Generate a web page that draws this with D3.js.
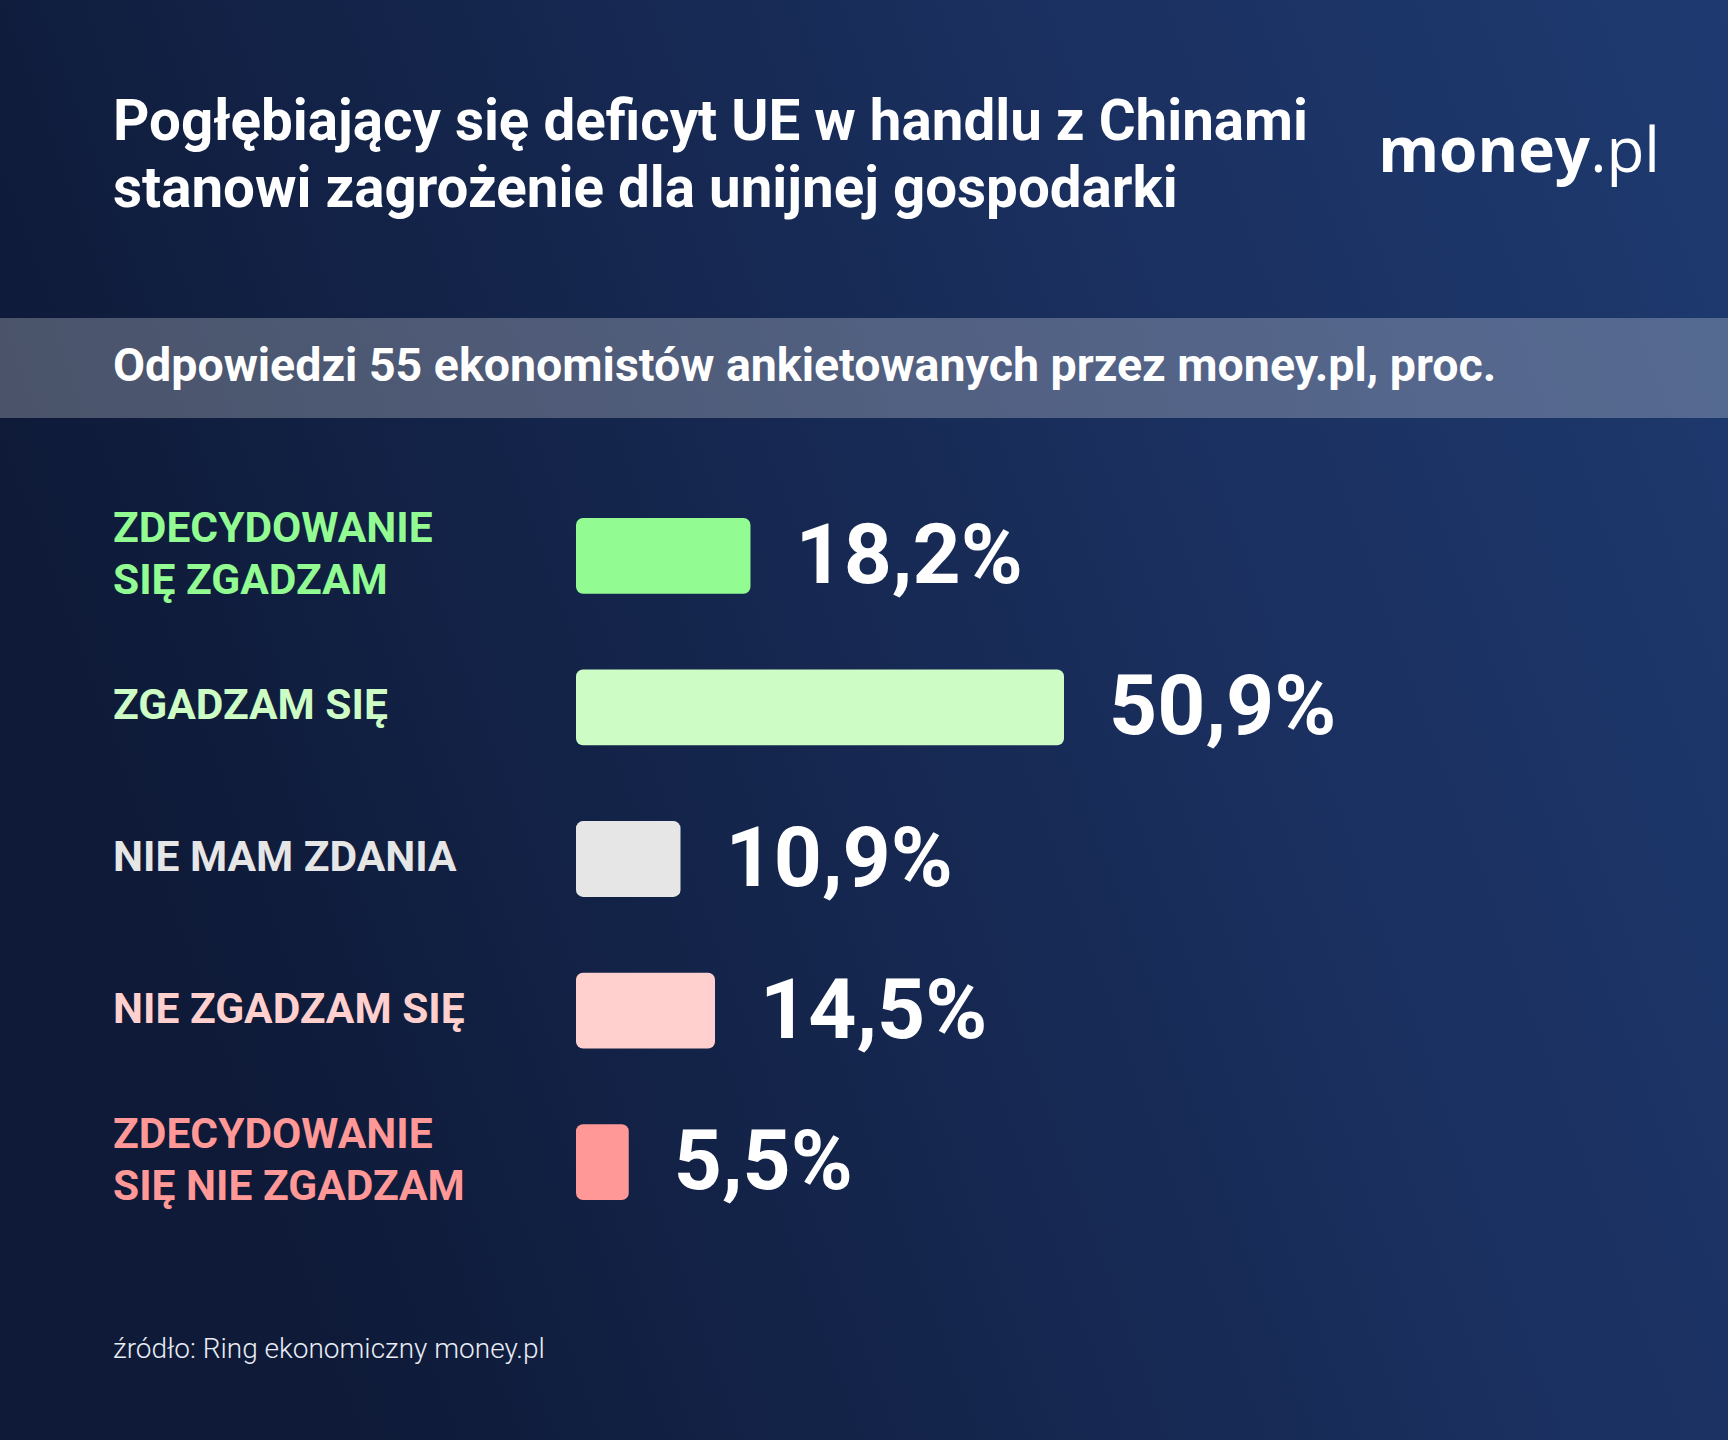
<!DOCTYPE html>
<html>
<head>
<meta charset="utf-8">
<script src="https://d3js.org/d3.v7.min.js"></script>
<style>
  body { margin: 0; }
  svg { display: block; font-family: Roboto, "Noto Sans", sans-serif; }
</style>
</head>
<body>
<svg id="chart" width="1728" height="1440"></svg>
<script>
// data
var categories = [['ZDECYDOWANIE', 'SIĘ ZGADZAM'], ['ZGADZAM SIĘ'], ['NIE MAM ZDANIA'], ['NIE ZGADZAM SIĘ'], ['ZDECYDOWANIE', 'SIĘ NIE ZGADZAM']];
var values = [18.2, 50.9, 10.9, 14.5, 5.5];
var colors = ['#92fb92', '#cdfdc5', '#e6e6e6', '#ffd0cd', '#ff9896'];
var titleLines = ['Pogłębiający się deficyt UE w handlu z Chinami', 'stanowi zagrożenie dla unijnej gospodarki'];
var subtitle = 'Odpowiedzi 55 ekonomistów ankietowanych przez money.pl, proc.';
var source = 'źródło: Ring ekonomiczny money.pl';

var svg = d3.select('#chart');

var defs = svg.append('defs');
var grad = defs.append('linearGradient').attr('id', 'bg').attr('x1', 0).attr('y1', 0.3).attr('x2', 1).attr('y2', 0);
grad.append('stop').attr('offset', '0%').attr('stop-color', '#0e1a38');
grad.append('stop').attr('offset', '60%').attr('stop-color', '#1a2f5e');
grad.append('stop').attr('offset', '100%').attr('stop-color', '#1e3a70');
svg.append('rect').attr('width', 1728).attr('height', 1440).attr('fill', 'url(#bg)');

// title
svg.append('g').selectAll('text').data(titleLines).enter().append('text')
    .attr('x', 113).attr('y', (d, i) => 140 + i * 67)
    .attr('fill', '#fff').attr('font-size', 56.5).attr('font-weight', 700)
    .text(d => d);

// logo
var logo = svg.append('text').attr('x', 1660).attr('y', 172).attr('text-anchor', 'end')
    .attr('fill', '#fff').attr('font-size', 62).attr('font-family', '"Open Sans", sans-serif');
logo.append('tspan').attr('font-weight', 700).text('money');
logo.append('tspan').attr('font-weight', 400).text('.pl');

// band
svg.append('rect').attr('x', 0).attr('y', 318).attr('width', 1728).attr('height', 100)
    .attr('fill', '#ffffff').attr('opacity', 0.25);
svg.append('text').attr('x', 113).attr('y', 381).attr('fill', '#fff')
    .attr('font-size', 46.5).attr('font-weight', 700).text(subtitle);

// bars
var x = d3.scaleLinear().domain([0, 50.9]).range([0, 488]);
var y = d3.scaleBand().domain(d3.range(values.length)).range([518, 1200]).paddingInner(0.5).paddingOuter(0);
var x0 = 576;

var rows = svg.append('g').selectAll('g').data(values).enter().append('g')
    .attr('transform', (d, i) => 'translate(0,' + y(i) + ')');

rows.append('rect').attr('x', x0).attr('width', d => x(d)).attr('height', y.bandwidth())
    .attr('rx', 7).attr('fill', (d, i) => colors[i]);

rows.append('text').attr('x', d => x0 + x(d) + 45).attr('y', y.bandwidth() / 2 + 27)
    .attr('fill', '#fff').attr('font-size', 84).attr('font-weight', 700)
    .text(d => d3.format('.1f')(d).replace('.', ',') + '%');

rows.each(function (d, i) {
    var lines = categories[i];
    var t = d3.select(this).append('text').attr('fill', colors[i])
        .attr('font-size', 42.5).attr('font-weight', 700);
    lines.forEach(function (l, j) {
        t.append('tspan').attr('x', 113)
            .attr('y', y.bandwidth() / 2 + 12 + (j - (lines.length - 1) / 2) * 52).text(l);
    });
});

// source
svg.append('text').attr('x', 113).attr('y', 1358).attr('fill', '#e8ecf5')
    .attr('font-size', 28).attr('font-weight', 300).text(source);
</script>
</body>
</html>
